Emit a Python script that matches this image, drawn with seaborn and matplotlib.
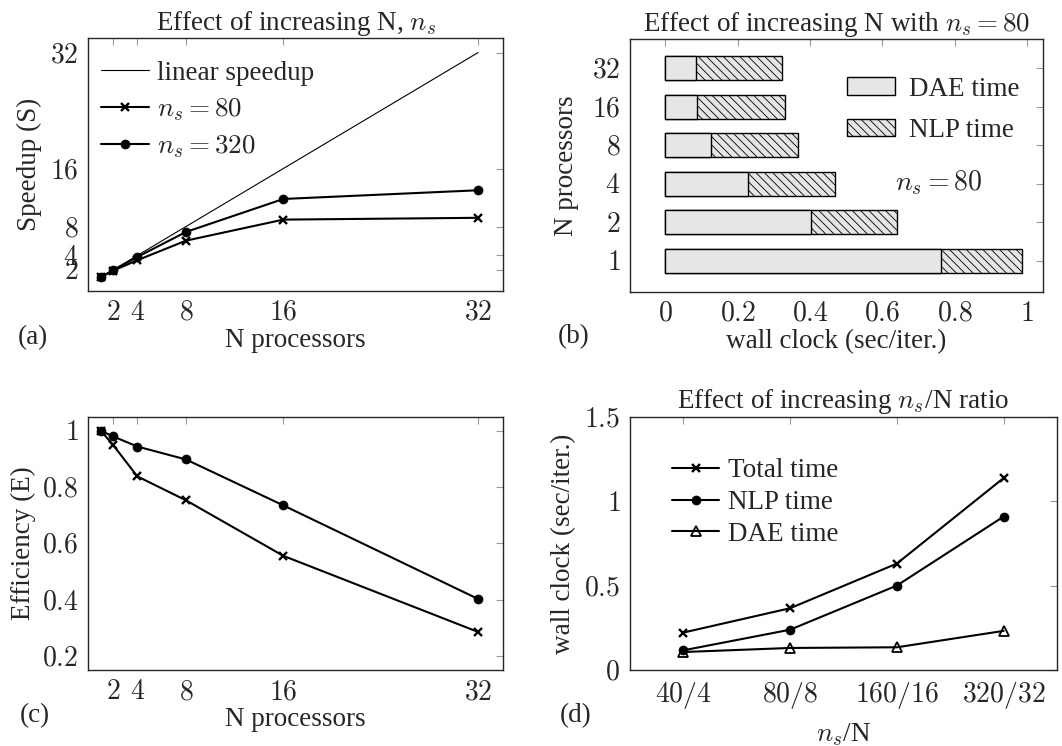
import matplotlib
matplotlib.use("Agg")
import matplotlib.pyplot as plt
from matplotlib.patches import Patch
from matplotlib.ticker import FuncFormatter, FixedLocator
import seaborn as sns
import pandas as pd

# ---------------- data ----------------
procs = [1, 2, 4, 8, 16, 32]
speedup_80 = [1.0, 1.9, 3.35, 6.05, 8.95, 9.2]
speedup_320 = [1.0, 1.96, 3.8, 7.25, 11.8, 13.0]
linear_x = [1, 32]
linear_y = [1, 32]

eff_80 = [1.0, 0.95, 0.838, 0.753, 0.556, 0.286]
eff_320 = [1.0, 0.98, 0.944, 0.898, 0.735, 0.403]

bar_procs = ["1", "2", "4", "8", "16", "32"]
dae_time = [0.763, 0.402, 0.228, 0.127, 0.0875, 0.085]
nlp_time = [0.223, 0.239, 0.242, 0.240, 0.2435, 0.238]

ratio_labels = ["$40/4$", "$80/8$", "$160/16$", "$320/32$"]
total_ratio = [0.223, 0.367, 0.631, 1.137]
nlp_ratio = [0.118, 0.240, 0.501, 0.909]
dae_ratio = [0.108, 0.132, 0.136, 0.233]

# ---------------- style ----------------
sns.set_style("white")
plt.rcParams["font.family"] = ["Liberation Serif", "DejaVu Serif"]
plt.rcParams["mathtext.fontset"] = "cm"
plt.rcParams["hatch.linewidth"] = 0.6
plt.rcParams["hatch.color"] = "black"

FS = 19.5
TFS = 20
gray = "#e6e6e6"
HATCH = "\\\\\\\\"

fig = plt.figure(figsize=(10.62, 7.46), dpi=100)
ax_a = fig.add_axes([0.0829, 0.6099, 0.3908, 0.3391])
ax_b = fig.add_axes([0.5932, 0.6086, 0.3886, 0.3391])
ax_c = fig.add_axes([0.0829, 0.1015, 0.3908, 0.3400])
ax_d = fig.add_axes([0.5932, 0.1015, 0.4021, 0.3400])

mathfmt = FuncFormatter(lambda v, p: f"${v:g}$")


def style_axes(ax):
    for s in ax.spines.values():
        s.set_color("0.15")
        s.set_linewidth(1.0)
    ax.tick_params(direction="in", top=True, right=True, color="0.6",
                   length=5, width=0.8, labelsize=TFS, pad=7)


line_kw = dict(color="black", linewidth=1.5, estimator=None, sort=False)

# ---------------- (a) speedup ----------------
sns.lineplot(x=linear_x, y=linear_y, ax=ax_a, color="black", linewidth=0.8,
             estimator=None, sort=False, label="linear speedup")
sns.lineplot(x=procs, y=speedup_80, ax=ax_a, marker="x", markersize=6,
             mew=1.7, mec="black", label="$n_s = 80$", **line_kw)
sns.lineplot(x=procs, y=speedup_320, ax=ax_a, marker="o", markersize=6.5,
             mew=0.5, mec="black", mfc="black", label="$n_s = 320$", **line_kw)
ax_a.set_xlim(-0.05, 34.05)
ax_a.set_ylim(-0.9, 34)
ax_a.xaxis.set_major_locator(FixedLocator([2, 4, 8, 16, 32]))
ax_a.yaxis.set_major_locator(FixedLocator([2, 4, 8, 16, 32]))
ax_a.xaxis.set_major_formatter(mathfmt)
ax_a.yaxis.set_major_formatter(mathfmt)
style_axes(ax_a)
ax_a.set_title("Effect of increasing N, $n_s$", fontsize=FS, pad=6)
ax_a.set_xlabel("N processors", fontsize=FS)
ax_a.set_ylabel("Speedup (S)", fontsize=FS)
ax_a.xaxis.set_label_coords(0.5, -0.145)
ax_a.yaxis.set_label_coords(-0.112, 0.5)
h, l = ax_a.get_legend_handles_labels()
ax_a.legend(h, l, loc="upper left", bbox_to_anchor=(-0.014, 0.985), frameon=False,
            fontsize=FS, handlelength=1.75, handletextpad=0.3,
            labelspacing=0.38, borderaxespad=0.3)

# ---------------- (b) stacked bars ----------------
order = bar_procs[::-1]
total_time = [d + n for d, n in zip(dae_time, nlp_time)]
df_b = pd.DataFrame({"procs": bar_procs, "total": total_time, "dae": dae_time})
sns.barplot(data=df_b, x="total", y="procs", order=order, orient="h", ax=ax_b,
            color=gray, saturation=1, width=0.63, edgecolor="black",
            linewidth=1.0, hatch=HATCH, errorbar=None)
sns.barplot(data=df_b, x="dae", y="procs", order=order, orient="h", ax=ax_b,
            color=gray, saturation=1, width=0.63, edgecolor="black",
            linewidth=1.0, errorbar=None)
ax_b.set_xlim(-0.098, 1.043)
ax_b.set_ylim(5.81, -0.76)
ax_b.xaxis.set_major_locator(FixedLocator([0, 0.2, 0.4, 0.6, 0.8, 1.0]))
ax_b.xaxis.set_major_formatter(mathfmt)
ax_b.set_yticks(range(len(order)))
ax_b.set_yticklabels([f"${p}$" for p in order])
style_axes(ax_b)
ax_b.set_title("Effect of increasing N with $n_s = 80$", fontsize=FS, pad=6)
ax_b.set_xlabel("wall clock (sec/iter.)", fontsize=FS)
ax_b.set_ylabel("N processors", fontsize=FS)
ax_b.xaxis.set_label_coords(0.5, -0.145)
ax_b.yaxis.set_label_coords(-0.124, 0.5)
leg_handles = [Patch(facecolor=gray, edgecolor="black", linewidth=1.0, label="DAE time"),
               Patch(facecolor=gray, edgecolor="black", linewidth=1.0, hatch=HATCH,
                     label="NLP time")]
ax_b.legend(handles=leg_handles, loc="upper right", bbox_to_anchor=(1.004, 0.948),
            frameon=False, fontsize=FS, handlelength=1.75, handleheight=0.6,
            handletextpad=0.55, labelspacing=0.6)
ax_b.text(0.756, 2.96, "$n_s = 80$", fontsize=TFS, ha="center", va="center")

# ---------------- (c) efficiency ----------------
sns.lineplot(x=procs, y=eff_80, ax=ax_c, marker="x", markersize=6,
             mew=1.7, mec="black", **line_kw)
sns.lineplot(x=procs, y=eff_320, ax=ax_c, marker="o", markersize=6.5,
             mew=0.5, mec="black", mfc="black", **line_kw)
ax_c.set_xlim(-0.05, 34.05)
ax_c.set_ylim(0.15, 1.05)
ax_c.xaxis.set_major_locator(FixedLocator([2, 4, 8, 16, 32]))
ax_c.yaxis.set_major_locator(FixedLocator([0.2, 0.4, 0.6, 0.8, 1.0]))
ax_c.xaxis.set_major_formatter(mathfmt)
ax_c.yaxis.set_major_formatter(mathfmt)
style_axes(ax_c)
ax_c.set_xlabel("N processors", fontsize=FS)
ax_c.set_ylabel("Efficiency (E)", fontsize=FS)
ax_c.xaxis.set_label_coords(0.5, -0.145)
ax_c.yaxis.set_label_coords(-0.125, 0.5)

# ---------------- (d) ratio ----------------
sns.lineplot(x=ratio_labels, y=total_ratio, ax=ax_d, marker="x", markersize=6,
             mew=1.7, mec="black", label="Total time", **line_kw)
sns.lineplot(x=ratio_labels, y=nlp_ratio, ax=ax_d, marker="o", markersize=6.5,
             mew=0.5, mec="black", mfc="black", label="NLP time", **line_kw)
sns.lineplot(x=ratio_labels, y=dae_ratio, ax=ax_d, marker="^", markersize=7,
             mew=1.3, mec="black", mfc="none", label="DAE time", **line_kw)
ax_d.set_xlim(-0.5, 3.5)
ax_d.set_ylim(0, 1.5)
ax_d.yaxis.set_major_locator(FixedLocator([0, 0.5, 1.0, 1.5]))
ax_d.yaxis.set_major_formatter(mathfmt)
style_axes(ax_d)
ax_d.set_title("Effect of increasing $n_s$/N ratio", fontsize=FS, pad=6)
ax_d.set_xlabel("$n_s$/N", fontsize=FS)
ax_d.set_ylabel("wall clock (sec/iter.)", fontsize=FS)
ax_d.xaxis.set_label_coords(0.5, -0.2)
ax_d.yaxis.set_label_coords(-0.127, 0.5)
h, l = ax_d.get_legend_handles_labels()
ax_d.legend(h, l, loc="upper left", bbox_to_anchor=(0.054, 0.91), frameon=False,
            fontsize=FS, handlelength=1.75, handletextpad=0.3,
            labelspacing=0.25, borderaxespad=0.3)

# ---------------- panel letters ----------------
for txt, x, y in [("(a)", 33, 338), ("(b)", 574, 337), ("(c)", 35, 716), ("(d)", 576, 716)]:
    fig.text(x / 1062, 1 - y / 746, txt, ha="center", va="center", fontsize=FS)

fig.savefig("out.png", dpi=100)
